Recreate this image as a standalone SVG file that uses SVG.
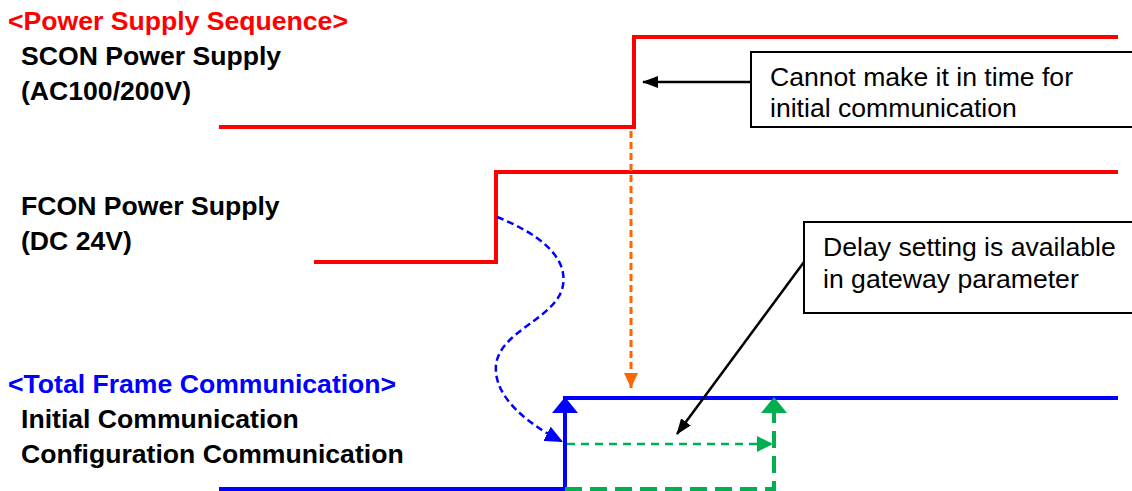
<svg xmlns="http://www.w3.org/2000/svg" width="1132" height="491" viewBox="0 0 1132 491">
<style>
text{font-family:"Liberation Sans",Arial,sans-serif;font-size:26.6px}
.b{font-weight:bold}
.sig{fill:none;stroke-width:4}
.box{fill:#fff;stroke:#000;stroke-width:2}
</style>
<defs>
<marker id="ak" markerUnits="userSpaceOnUse" markerWidth="16" markerHeight="12" refX="15" refY="6" orient="auto"><path d="M0,0L16,6L0,12z" fill="#000"/></marker>
<marker id="ao" markerUnits="userSpaceOnUse" markerWidth="15" markerHeight="14" refX="15" refY="7" orient="auto"><path d="M0,0L15,7L0,14z" fill="#FF6600"/></marker>
<marker id="ab" markerUnits="userSpaceOnUse" markerWidth="18" markerHeight="16" refX="18" refY="8" orient="auto"><path d="M0,0L18,8L0,16z" fill="#0000FF"/></marker>
<marker id="ag" markerUnits="userSpaceOnUse" markerWidth="16" markerHeight="16" refX="16" refY="8" orient="auto"><path d="M0,0L16,8L0,16z" fill="#00B050"/></marker>
</defs>
<g id="labels">
<text class="b" x="8" y="30" fill="#FF0000">&lt;Power Supply Sequence&gt;</text>
<text class="b" x="21" y="65">SCON Power Supply</text>
<text class="b" x="21" y="100">(AC100/200V)</text>
<text class="b" x="21" y="215">FCON Power Supply</text>
<text class="b" x="21" y="250">(DC 24V)</text>
<text class="b" x="8" y="393" fill="#0000FF">&lt;Total Frame Communication&gt;</text>
<text class="b" x="21" y="428">Initial Communication</text>
<text class="b" x="21" y="463">Configuration Communication</text>
</g>
<g id="scon">
<polyline class="sig" stroke="#FF0000" points="219,127 634,127 634,37 1118,37"/>
</g>
<g id="fcon">
<polyline class="sig" stroke="#FF0000" points="314,262 496,262 496,172 1118,172"/>
</g>
<g id="comm">
<polyline class="sig" stroke="#0000FF" points="219,489 565,489 565,398 1118,398"/>
<path d="M552,413L565,397L578,413z" fill="#0000FF"/>
</g>
<g id="config">
<path d="M565,489H774V413" fill="none" stroke="#00B050" stroke-width="4" stroke-dasharray="17,8"/>
<path d="M761,413L774,397L787,413z" fill="#00B050"/>
</g>
<g id="callout1">
<rect class="box" x="751" y="52" width="390" height="75"/>
<text x="770" y="86">Cannot make it in time for</text>
<text x="770" y="117">initial communication</text>
</g>
<g id="callout2">
<rect class="box" x="804" y="222" width="340" height="91"/>
<text x="823" y="256">Delay setting is available</text>
<text x="823" y="288">in gateway parameter</text>
</g>
<g id="connectors">
<line x1="750" y1="82" x2="643" y2="82" stroke="#000" stroke-width="2.5" marker-end="url(#ak)"/>
<line x1="631" y1="131" x2="631" y2="388" stroke="#FF6600" stroke-width="3" stroke-dasharray="7,4" marker-end="url(#ao)"/>
<path d="M497,217C535,232 568,255 563,285C558,318 500,330 496,365C493,398 530,425 563,442" fill="none" stroke="#0000FF" stroke-width="2.5" stroke-dasharray="7,4" marker-end="url(#ab)"/>
<line x1="804" y1="262" x2="677" y2="434" stroke="#000" stroke-width="2.5" marker-end="url(#ak)"/>
<line x1="567" y1="444" x2="773" y2="444" stroke="#00B050" stroke-width="2.5" stroke-dasharray="8,6" marker-end="url(#ag)"/>
</g>
</svg>
